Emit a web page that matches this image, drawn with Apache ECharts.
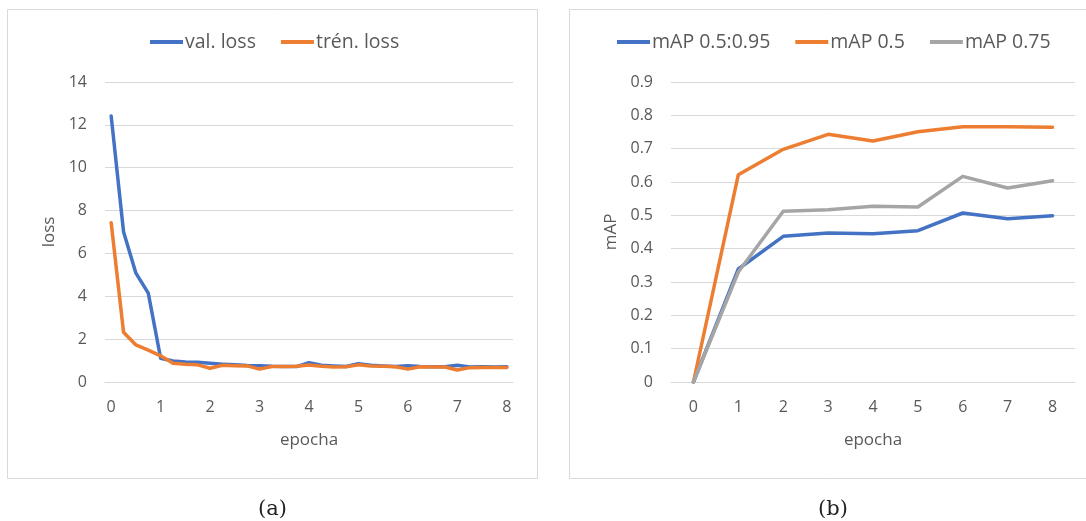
<!DOCTYPE html>
<html>
<head>
<meta charset="utf-8">
<script src="https://cdn.jsdelivr.net/npm/echarts@6/dist/echarts.min.js"></script>
<style>
html,body{margin:0;padding:0;background:#fff;}
#c{width:1086px;height:521px;}
</style>
</head>
<body>
<div id="c"></div>
<script>
// ---- data ----
const lossEpochs = ['0','0.25','0.5','0.75','1','1.25','1.5','1.75','2','2.25','2.5','2.75','3','3.25','3.5','3.75','4','4.25','4.5','4.75','5','5.25','5.5','5.75','6','6.25','6.5','6.75','7','7.25','7.5','7.75','8'];
const valLoss = [12.41,7.01,5.08,4.15,1.11,0.98,0.93,0.92,0.87,0.83,0.80,0.77,0.76,0.73,0.72,0.72,0.90,0.78,0.75,0.72,0.85,0.78,0.75,0.72,0.76,0.72,0.71,0.71,0.78,0.70,0.71,0.70,0.71];
const trainLoss = [7.43,2.32,1.73,1.49,1.22,0.88,0.83,0.80,0.64,0.78,0.76,0.75,0.60,0.72,0.72,0.73,0.79,0.73,0.70,0.71,0.80,0.75,0.73,0.71,0.60,0.71,0.70,0.70,0.56,0.67,0.68,0.68,0.68];
const lossTicks = [0,2,4,6,8,10,12,14];

const mapEpochs = ['0','1','2','3','4','5','6','7','8'];
const map5095 = [0,0.339,0.437,0.447,0.445,0.454,0.507,0.490,0.499];
const map50 = [0,0.622,0.698,0.743,0.723,0.751,0.766,0.766,0.764];
const map75 = [0,0.330,0.512,0.517,0.527,0.525,0.617,0.582,0.604];
const mapTicks = [0,0.1,0.2,0.3,0.4,0.5,0.6,0.7,0.8,0.9];

const names = {val:'val. loss', train:'trén. loss', m1:'mAP 0.5:0.95', m2:'mAP 0.5', m3:'mAP 0.75'};
const captions = ['(a)','(b)'];

// ---- style ----
const BLUE='#4472C4', ORANGE='#ED7D31', GRAY='#A5A5A5';
const FONT='"Open Sans", Lato, sans-serif';
const TXT='#595959';
const GRID='#D9D9D9';
const LW=3.5;

function yAxisCfg(gridIndex, name, max, interval, gap, fmt){
  return {
    type:'value', gridIndex, min:0, max, interval,
    name, nameLocation:'middle', nameGap:gap, nameRotate:90,
    nameTextStyle:{color:TXT,fontFamily:FONT,fontSize:17},
    axisLine:{show:false}, axisTick:{show:false},
    axisLabel:{color:TXT,fontFamily:FONT,fontSize:16,margin:18,formatter:fmt},
    splitLine:{lineStyle:{color:GRID,width:1}}
  };
}
function xAxisCfg(gridIndex, data, interval){
  return {
    type:'category', gridIndex, data, boundaryGap:true,
    name:'epocha', nameLocation:'middle', nameGap:50,
    nameTextStyle:{color:TXT,fontFamily:FONT,fontSize:17},
    axisLine:{lineStyle:{color:GRID,width:1}}, axisTick:{show:false},
    axisLabel:{color:TXT,fontFamily:FONT,fontSize:16,margin:17,interval,
      formatter:v=>String(Number(v))},
    splitLine:{show:false}
  };
}
function lineSeries(name, data, color, idx){
  return {type:'line', name, data, xAxisIndex:idx, yAxisIndex:idx,
    symbol:'none', smooth:false, lineStyle:{color, width:LW, cap:'round', join:'round'},
    itemStyle:{color}, animation:false};
}

const legendCommon = {icon:'rect', itemWidth:33, itemHeight:4, itemGap:25,
  textStyle:{color:TXT,fontFamily:FONT,fontSize:19.5,padding:[0,0,0,-3]}, top:27};

const option = {
  animation:false,
  backgroundColor:'#fff',
  graphic:[
    {type:'rect', shape:{x:7.5,y:9.5,width:530,height:469}, style:{fill:'none',stroke:'#D9D9D9',lineWidth:1}, silent:true},
    {type:'rect', shape:{x:569.5,y:9.5,width:530,height:469}, style:{fill:'none',stroke:'#D9D9D9',lineWidth:1}, silent:true},
    {type:'text', left:258, top:499, style:{text:captions[0], font:'21px "DejaVu Serif", serif', fill:'#222'}},
    {type:'text', left:818, top:499, style:{text:captions[1], font:'21px "DejaVu Serif", serif', fill:'#222'}}
  ],
  legend:[
    Object.assign({left:145, data:[names.val, names.train]}, legendCommon),
    Object.assign({left:612, data:[names.m1, names.m2, names.m3]}, legendCommon)
  ],
  grid:[
    {left:105, top:82, width:408, height:300},
    {left:671, top:82, width:404, height:300}
  ],
  xAxis:[ xAxisCfg(0, lossEpochs, 3), xAxisCfg(1, mapEpochs, 0) ],
  yAxis:[
    yAxisCfg(0,'loss',lossTicks[lossTicks.length-1],2,47,v=>String(v)),
    yAxisCfg(1,'mAP',mapTicks[mapTicks.length-1],0.1,51,v=>String(Math.round(v*10)/10))
  ],
  series:[
    lineSeries(names.val, valLoss, BLUE, 0),
    lineSeries(names.train, trainLoss, ORANGE, 0),
    lineSeries(names.m1, map5095, BLUE, 1),
    lineSeries(names.m2, map50, ORANGE, 1),
    lineSeries(names.m3, map75, GRAY, 1)
  ]
};
const chart = echarts.init(document.getElementById('c'), null, {renderer:'canvas'});
chart.setOption(option);
</script>
</body>
</html>
